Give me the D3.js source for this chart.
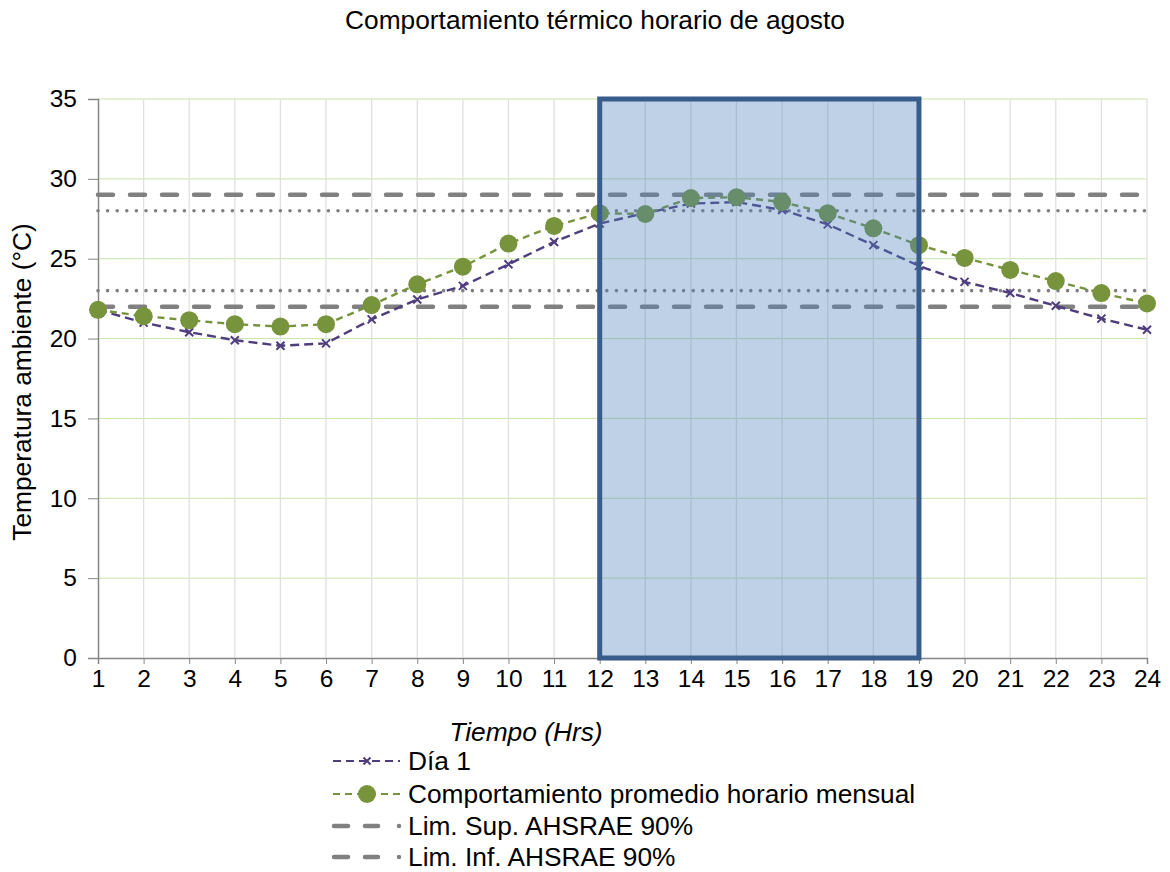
<!DOCTYPE html>
<html><head><meta charset="utf-8">
<script src="https://cdn.jsdelivr.net/npm/d3@7"></script>
<style>body{margin:0;background:#fff}svg{font-family:"Liberation Sans",Arial,sans-serif}</style>
</head><body><svg id="c" width="1170" height="872"></svg>
<script>
const hours = d3.range(1, 25);
const dia1 = [21.8,21.0,20.4,19.9,19.55,19.7,21.2,22.45,23.3,24.65,26.05,27.2,27.85,28.45,28.55,28.05,27.15,25.85,24.55,23.55,22.85,22.05,21.25,20.55];
const promedio = [21.8,21.4,21.15,20.9,20.75,20.9,22.1,23.4,24.5,25.95,27.05,27.85,27.8,28.8,28.85,28.55,27.85,26.9,25.85,25.05,24.3,23.6,22.85,22.2];
const limSup = 29, limInf = 22;
const dotSup = 28, dotInf = 23;
const boxFrom = 12, boxTo = 19;
const yTicks = [0,5,10,15,20,25,30,35];
const legendLabels = ["Día 1","Comportamiento promedio horario mensual","Lim. Sup. AHSRAE 90%","Lim. Inf. AHSRAE 90%"];

const svg = d3.select("#c");
const x = d3.scaleLinear().domain([1,24]).range([98,1147]);
const y = d3.scaleLinear().domain([0,35]).range([658,99]);
const purple = "#4f3d7e", green = "#77933c", gray = "#808080";
const FS = 26.3, TFS = 24.5;

svg.append("text").attr("x",595).attr("y",29).attr("text-anchor","middle").attr("font-size",FS).text("Comportamiento térmico horario de agosto");

// gridlines
svg.append("g").selectAll("line").data(yTicks.filter(d=>d>0)).join("line")
  .attr("x1",x(1)).attr("x2",x(24)).attr("y1",d=>y(d)).attr("y2",d=>y(d))
  .attr("stroke","#c9e5a9").attr("stroke-width",1);
svg.append("g").selectAll("line").data(hours.slice(1)).join("line")
  .attr("x1",d=>x(d)).attr("x2",d=>x(d)).attr("y1",y(0)).attr("y2",y(35))
  .attr("stroke","#e0e0e0").attr("stroke-width",1.3);

// axes
const ya = svg.append("g").attr("transform",`translate(${x(1)},0)`)
  .call(d3.axisLeft(y).tickValues(yTicks).tickSize(10).tickPadding(11));
ya.select(".domain").attr("stroke","#868686").attr("stroke-width",1.5);
ya.selectAll(".tick line").attr("stroke","#868686");
ya.selectAll("text").attr("font-size",TFS).attr("fill","#000").attr("font-family","Liberation Sans, Arial");
const xa = svg.append("g").attr("transform",`translate(0,${y(0)})`)
  .call(d3.axisBottom(x).tickValues(hours).tickFormat(d3.format("d")).tickSize(6).tickPadding(6));
xa.select(".domain").attr("stroke","#868686").attr("stroke-width",1.5);
xa.selectAll(".tick line").attr("stroke","#868686");
xa.selectAll("text").attr("font-size",TFS).attr("fill","#000").attr("font-family","Liberation Sans, Arial");

svg.append("text").attr("transform",`translate(31,382) rotate(-90)`).attr("text-anchor","middle").attr("font-size",FS).text("Temperatura ambiente (°C)");
svg.append("text").attr("x",526).attr("y",741).attr("text-anchor","middle").attr("font-size",FS).attr("font-style","italic").text("Tiempo (Hrs)");

// reference lines
function hline(v, dash, w){
  svg.append("line").attr("x1",x(1)).attr("x2",x(24)).attr("y1",y(v)).attr("y2",y(v))
    .attr("stroke",gray).attr("stroke-width",w).attr("stroke-dasharray",dash).attr("stroke-linecap","round");
}
hline(limSup,"15,17",4.5); hline(limInf,"15,17",4.5);
hline(dotSup,"0,9.6",3.6); hline(dotInf,"0,9.6",3.6);

const line = d3.line().x((d,i)=>x(hours[i])).y(d=>y(d));
svg.append("path").datum(dia1).attr("d",line).attr("fill","none").attr("stroke",purple).attr("stroke-width",2.4).attr("stroke-dasharray","9,5");
svg.append("path").datum(promedio).attr("d",line).attr("fill","none").attr("stroke",green).attr("stroke-width",2.4).attr("stroke-dasharray","7,5");
function cross(g,cx,cy,s){
  g.append("path").attr("d",`M${cx-s},${cy-s}L${cx+s},${cy+s}M${cx-s},${cy+s}L${cx+s},${cy-s}`).attr("stroke",purple).attr("stroke-width",2);
}
const cg = svg.append("g");
dia1.forEach((d,i)=>cross(cg,x(hours[i]),y(d),4));
svg.append("g").selectAll("circle").data(promedio).join("circle")
  .attr("cx",(d,i)=>x(hours[i])).attr("cy",d=>y(d)).attr("r",9).attr("fill",green);

// highlighted box
svg.append("rect").attr("x",x(boxFrom)).attr("y",y(35)).attr("width",x(boxTo)-x(boxFrom)).attr("height",y(0)-y(35))
  .attr("fill","#4f81bd").attr("fill-opacity",0.37).attr("stroke","#385d8a").attr("stroke-width",5);

// legend
const lg = svg.append("g");
const ly = [761,794,826,857];
legendLabels.forEach((t,i)=>{
  lg.append("text").attr("x",408).attr("y",ly[i]+9).attr("font-size",FS).text(t);
});
lg.append("line").attr("x1",333).attr("x2",400).attr("y1",ly[0]).attr("y2",ly[0]).attr("stroke",purple).attr("stroke-width",2.2).attr("stroke-dasharray","8,5");
cross(lg,367,ly[0],3.5);
lg.append("line").attr("x1",333).attr("x2",400).attr("y1",ly[1]).attr("y2",ly[1]).attr("stroke",green).attr("stroke-width",2.2).attr("stroke-dasharray","7,5");
lg.append("circle").attr("cx",367).attr("cy",ly[1]).attr("r",9).attr("fill",green);
[2,3].forEach(i=>{
  lg.append("line").attr("x1",334).attr("x2",400).attr("y1",ly[i]).attr("y2",ly[i]).attr("stroke",gray).attr("stroke-width",4.5).attr("stroke-dasharray","14,17,13,21,0,100").attr("stroke-linecap","round");
});
</script></body></html>
